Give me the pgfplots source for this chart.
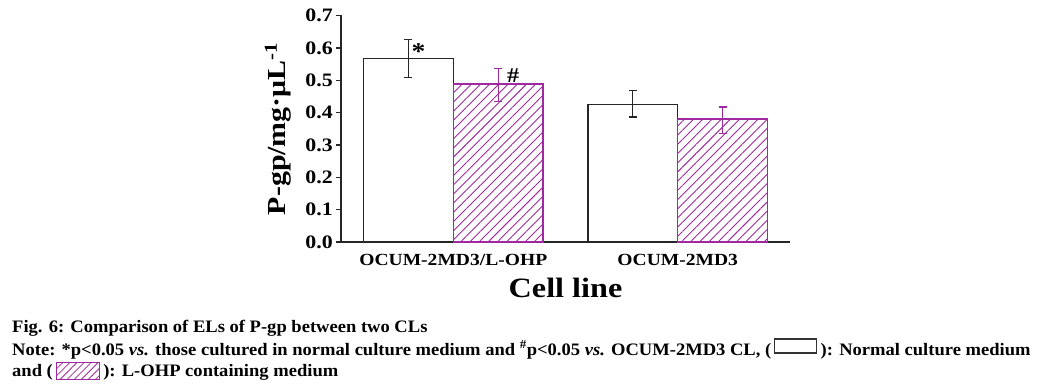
\documentclass[border=0pt]{standalone}
\usepackage{fontspec}
\setmainfont{Liberation Serif}[FakeStretch=1.15]
\newfontfamily\capfont{Liberation Serif}[FakeStretch=1.06]
\usepackage{pgfplots}
\pgfplotsset{compat=1.18}
\usetikzlibrary{patterns.meta}
\definecolor{hatch}{RGB}{160,40,160}
\begin{document}
\begin{tikzpicture}
\useasboundingbox (0,0) rectangle (1048bp,390bp);
\begin{axis}[
  at={(341bp,148bp)}, anchor=south west,
  scale only axis, width=449bp, height=226.5bp,
  xmin=-0.5, xmax=1.5, ymin=0, ymax=0.7,
  axis x line*=bottom, axis y line*=left,
  axis line style={-, line width=1.3bp, black!85},
  xtick={0,1}, xticklabels={OCUM-2MD3/L-OHP, OCUM-2MD3},
  xtick style={draw=none},
  xticklabel style={anchor=base, yshift=-19bp, font=\fontsize{17bp}{17bp}\selectfont\bfseries},
  ytick={0,0.1,...,0.7},
  tick align=outside, major tick length=5bp,
  ytick style={line width=1.3bp, black!85},
  /pgf/number format/assume math mode=true,
  /pgf/number format/.cd, fixed, fixed zerofill, precision=1, /pgfplots/.cd,
  yticklabel style={font=\fontsize{19bp}{19bp}\selectfont\bfseries, inner sep=0pt, anchor=east, xshift=-3bp},
  ylabel={P-gp/mg·μL\textsuperscript{-1}},
  ylabel style={at={(axis description cs:-0.14,0.5)}, anchor=center, rotate=0, font=\fontsize{26bp}{26bp}\selectfont\bfseries},
  xlabel={Cell line},
  xlabel style={at={(axis description cs:0.5,-0.247)}, anchor=base, font=\fontsize{28bp}{28bp}\selectfont\bfseries},
  clip=false,
]
\addplot[ybar, bar width=0.4, bar shift=0pt, draw=black!85, fill=white, line width=1.3bp,
  error bars/.cd, y dir=both, y explicit,
  error bar style={line width=1.2bp, black!85},
  error mark options={rotate=90, mark size=4bp, line width=1.2bp, black!85}]
  table[x=x, y=y, y error plus=ep, y error minus=em] {
  x     y      ep     em
  -0.2  0.568  0.059  0.059
  0.8   0.426  0.043  0.040
};
\addplot[ybar, bar width=0.4, bar shift=0pt, draw=hatch, line width=1.3bp,
  pattern={Lines[angle=45, distance=6.5bp, line width=0.9bp]}, pattern color=hatch,
  error bars/.cd, y dir=both, y explicit,
  error bar style={line width=1.2bp, hatch},
  error mark options={rotate=90, mark size=4bp, line width=1.2bp, hatch}]
  table[x=x, y=y, y error plus=ep, y error minus=em] {
  x     y      ep     em
  0.2   0.488  0.049  0.053
  1.2   0.380  0.037  0.044
};
\node[font=\fontsize{24bp}{24bp}\selectfont\bfseries, anchor=center] at (axis cs:-0.155,0.59) {*};
\node[font=\fontsize{21bp}{21bp}\selectfont\bfseries, anchor=base, text=black] at (axis cs:0.267,0.494) {\#};
\end{axis}
\begin{scope}[every node/.style={anchor=base west, inner sep=0pt, font=\capfont\fontsize{17.5bp}{17.5bp}\selectfont\bfseries}]
\node at (12bp,57bp) {Fig. 6: Comparison of ELs of P-gp between two CLs};
\node (l2a) at (12bp,35bp) {Note: *p<0.05 \textit{vs.} those cultured in normal culture medium and \textsuperscript{\#}p<0.05 \textit{vs.} OCUM-2MD3 CL, (};
\draw[black!80, line width=1.2bp] ([xshift=3bp, yshift=2bp]l2a.base east) rectangle ++(42bp,14bp);
\node at ([xshift=49bp]l2a.base east) {): Normal culture medium};
\node (l3a) at (12bp,14bp) {and (};
\draw[hatch, line width=1bp, pattern={Lines[angle=45, distance=5bp, line width=0.8bp]}, pattern color=hatch] ([xshift=3bp, yshift=-4bp]l3a.base east) rectangle ++(43bp,17bp);
\node at ([xshift=50bp]l3a.base east) {): L-OHP containing medium};
\end{scope}
\end{tikzpicture}
\end{document}
